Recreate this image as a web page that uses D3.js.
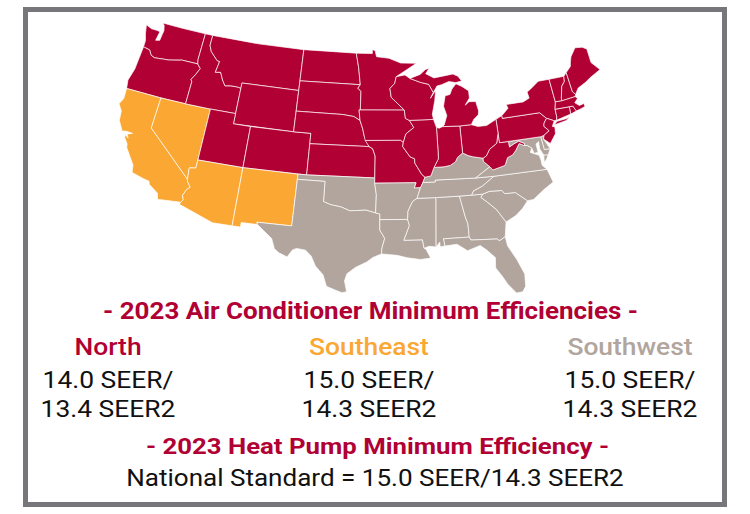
<!DOCTYPE html>
<html>
<head>
<meta charset="utf-8">
<script src="https://cdnjs.cloudflare.com/ajax/libs/d3/7.8.5/d3.min.js"></script>
<style>
  html, body { margin: 0; padding: 0; background: #fff; }
  svg { display: block; }
  text { font-family: Roboto, sans-serif; }
</style>
</head>
<body>
<script>
const regions = ['North', 'Southeast', 'Southwest']
const seerValues = ['14.0 SEER/', '15.0 SEER/', '15.0 SEER/']
const seer2Values = ['13.4 SEER2', '14.3 SEER2', '14.3 SEER2']
const acTitle = '- 2023 Air Conditioner Minimum Efficiencies -'
const hpTitle = '- 2023 Heat Pump Minimum Efficiency -'
const hpLine = 'National Standard = 15.0 SEER/14.3 SEER2'

const northStates = ['WA', 'OR', 'ID', 'MT', 'WY', 'UT', 'CO', 'ND', 'SD', 'NE', 'KS', 'MN', 'IA', 'MO', 'WI', 'IL', 'IN', 'OH', 'MI', 'MIU', 'WV', 'PA', 'NY', 'LI', 'VT', 'NH', 'ME', 'MA', 'RI', 'CT', 'NJ']
const orangeStates = ['CA', 'NV', 'AZ', 'NM']

const WA = [[-124.7,48.38],[-123.9,48.16],[-123.1,48.15],[-122.75,48.1],[-122.9,47.2],[-122.4,47.3],[-122.35,47.9],[-122.3,48.3],[-122.5,48.8],[-122.76,49],[-120,49],[-117.03,49],[-117.04,46.42],[-116.92,45.99],[-118.98,46],[-119.3,45.93],[-120.5,45.7],[-121.2,45.65],[-122.3,45.55],[-122.8,45.7],[-123.2,46.15],[-123.9,46.25],[-124.05,46.27],[-124.1,46.9],[-124.4,47.5]]
const OR = [[-124.05,46.27],[-123.9,46.25],[-123.2,46.15],[-122.8,45.7],[-122.3,45.55],[-121.2,45.65],[-120.5,45.7],[-119.3,45.93],[-118.98,46],[-116.92,45.99],[-116.46,45.6],[-116.85,44.9],[-117.2,44.4],[-117.03,44.2],[-117.03,42],[-120,42],[-124.2,42],[-124.4,42.8],[-124.1,44]]
const CA = [[-124.2,42],[-120,42],[-120,39],[-114.63,35],[-114.57,34.8],[-114.14,34.3],[-114.43,34.05],[-114.72,33.4],[-114.52,33],[-114.72,32.72],[-117.12,32.53],[-117.3,33.1],[-118.4,33.75],[-118.5,34.03],[-119.2,34.15],[-120.5,34.45],[-120.65,35.15],[-121.9,36.6],[-122,36.96],[-122.5,37.5],[-122.5,37.75],[-122.1,37.5],[-122.35,37.85],[-121.8,38.05],[-122.5,38.1],[-123,38],[-123.7,38.9],[-123.85,39.8],[-124.4,40.4],[-124.1,41]]
const NV = [[-120,42],[-117.03,42],[-114.04,42],[-114.04,37],[-114.05,36.2],[-114.74,36.1],[-114.63,35],[-120,39]]
const ID = [[-117.03,49],[-116.05,49],[-116.05,48],[-115.7,47.45],[-114.7,46.7],[-114.35,46.65],[-114.55,45.56],[-113.9,45.65],[-113.45,44.95],[-113,44.45],[-112.3,44.55],[-111.5,44.55],[-111.05,44.48],[-111.05,42],[-114.04,42],[-117.03,42],[-117.03,44.2],[-117.2,44.4],[-116.85,44.9],[-116.46,45.6],[-116.92,45.99],[-117.04,46.42]]
const MT = [[-116.05,49],[-110,49],[-104.05,49],[-104.05,45.94],[-104.05,45],[-111.05,45],[-111.05,44.48],[-111.5,44.55],[-112.3,44.55],[-113,44.45],[-113.45,44.95],[-113.9,45.65],[-114.55,45.56],[-114.35,46.65],[-114.7,46.7],[-115.7,47.45],[-116.05,48]]
const WY = [[-111.05,45],[-104.05,45],[-104.05,43],[-104.05,41],[-111.05,41],[-111.05,42],[-111.05,44.48]]
const UT = [[-114.04,42],[-111.05,42],[-111.05,41],[-109.05,41],[-109.05,37],[-114.04,37]]
const CO = [[-109.05,41],[-104.05,41],[-102.05,41],[-102.05,40],[-102.05,37],[-109.05,37]]
const AZ = [[-114.04,37],[-109.05,37],[-109.05,31.33],[-111.07,31.33],[-114.8,32.5],[-114.72,32.72],[-114.52,33],[-114.72,33.4],[-114.43,34.05],[-114.14,34.3],[-114.57,34.8],[-114.63,35],[-114.74,36.1],[-114.05,36.2]]
const NM = [[-109.05,37],[-103,37],[-103.04,32],[-106.62,32],[-106.53,31.78],[-108.2,31.78],[-108.2,31.33],[-109.05,31.33]]
const ND = [[-104.05,49],[-97.23,49],[-96.85,47.6],[-96.56,45.94],[-104.05,45.94]]
const SD = [[-104.05,45.94],[-96.56,45.94],[-96.85,45.6],[-96.45,45.3],[-96.45,43.5],[-96.6,43.5],[-96.44,42.49],[-97.2,42.85],[-98.5,43],[-104.05,43],[-104.05,45]]
const NE = [[-104.05,43],[-98.5,43],[-97.2,42.85],[-96.44,42.49],[-96.1,41.7],[-95.9,41],[-95.31,40],[-102.05,40],[-102.05,41],[-104.05,41]]
const KS = [[-102.05,40],[-95.31,40],[-94.9,39.8],[-94.61,39.1],[-94.62,37],[-102.05,37]]
const OK = [[-103,37],[-102.05,37],[-94.62,37],[-94.62,36.5],[-94.43,35.4],[-94.48,33.64],[-95.5,33.9],[-96.6,33.83],[-97.2,33.8],[-98.1,34.13],[-99.2,34.3],[-100,34.56],[-100,36.5],[-103,36.5]]
const TX = [[-106.62,32],[-103.04,32],[-103,36.5],[-100,36.5],[-100,34.56],[-99.2,34.3],[-98.1,34.13],[-97.2,33.8],[-96.6,33.83],[-95.5,33.9],[-94.48,33.64],[-94.04,33.55],[-94.04,33],[-94.04,32],[-93.53,31.2],[-93.8,30.3],[-93.85,29.7],[-94.7,29.35],[-95.3,28.9],[-96.4,28.35],[-97.2,27.7],[-97.4,27],[-97.15,25.96],[-97.6,25.85],[-98.3,26.1],[-99.1,26.4],[-99.5,27.5],[-100.3,28.3],[-100.8,29.25],[-101.4,29.77],[-102.3,29.88],[-102.7,29.7],[-103.15,28.98],[-104,29.3],[-104.5,29.65],[-104.9,30.6],[-106,31.4],[-106.53,31.78]]
const MN = [[-97.23,49],[-95.15,49],[-95.15,49.38],[-94.8,49.3],[-94.6,48.7],[-93,48.55],[-91.5,48.07],[-89.5,48],[-92.1,46.75],[-92.3,46.1],[-92.9,45.6],[-92.75,44.75],[-91.2,43.5],[-96.45,43.5],[-96.45,45.3],[-96.85,45.6],[-96.56,45.94],[-96.85,47.6]]
const IA = [[-96.45,43.5],[-91.2,43.5],[-91.1,42.7],[-90.64,42.5],[-90.15,41.8],[-91.1,41.2],[-91.42,40.38],[-91.73,40.6],[-95.77,40.58],[-95.9,41],[-96.1,41.7],[-96.44,42.49],[-96.6,43.5]]
const MO = [[-95.77,40.58],[-91.73,40.6],[-91.42,40.38],[-91.5,40],[-90.7,39],[-90.2,38.8],[-90.2,38.4],[-89.5,37.3],[-89.15,37],[-89.4,36.5],[-89.7,36],[-90.37,36],[-90.15,36.5],[-94.62,36.5],[-94.62,37],[-94.61,39.1],[-94.9,39.8],[-95.31,40]]
const AR = [[-94.62,36.5],[-90.15,36.5],[-90.37,36],[-89.7,36],[-90.1,35],[-90.6,34.7],[-91.1,33.8],[-91.17,33],[-94.04,33],[-94.04,33.55],[-94.48,33.64],[-94.43,35.4]]
const LA = [[-94.04,33],[-91.17,33],[-91,32.4],[-91.6,31],[-89.73,31],[-89.6,30.18],[-89.4,30.05],[-89,29.2],[-90,29.1],[-91.3,29.3],[-92.3,29.55],[-93.85,29.7],[-93.8,30.3],[-93.53,31.2],[-94.04,32]]
const MS = [[-90.1,35],[-88.2,35],[-88.1,34.9],[-88.4,30.25],[-89.1,30.35],[-89.6,30.18],[-89.73,31],[-91.6,31],[-91,32.4],[-91.17,33],[-91.1,33.8],[-90.6,34.7]]
const AL = [[-88.2,35],[-85.6,35],[-85.18,32.87],[-85,32.3],[-85,31],[-87.6,31],[-87.5,30.3],[-88,30.25],[-88,30.7],[-88.4,30.25],[-88.1,34.9]]
const GA = [[-85.6,35],[-84.32,35],[-83.11,35],[-83.35,34.7],[-82.75,34.2],[-81.9,33.4],[-81.4,32.6],[-81.1,32.1],[-81.4,30.7],[-82.05,30.36],[-82.2,30.57],[-84.86,30.7],[-85,31],[-85,32.3],[-85.18,32.87]]
const FL = [[-87.6,31],[-85,31],[-84.86,30.7],[-82.2,30.57],[-82.05,30.36],[-81.4,30.7],[-81.3,29.8],[-80.6,28.4],[-80.05,26.9],[-80.15,25.7],[-80.5,25.2],[-81.1,25.15],[-81.8,26.1],[-82.2,26.9],[-82.75,27.8],[-82.65,28.8],[-83.4,29.6],[-84,30.1],[-85.3,29.7],[-86.3,30.4],[-87.5,30.3]]
const SC = [[-83.35,34.7],[-83.11,35],[-82.4,35.2],[-81.05,35.15],[-80.8,34.82],[-79.67,34.8],[-78.55,33.86],[-79.2,33.2],[-80,32.6],[-81.1,32.1],[-81.4,32.6],[-81.9,33.4],[-82.75,34.2]]
const NC = [[-84.32,35],[-83.11,35],[-82.4,35.2],[-81.05,35.15],[-80.8,34.82],[-79.67,34.8],[-78.55,33.86],[-77.9,33.9],[-76.6,34.7],[-75.5,35.25],[-75.87,36.55],[-81.68,36.59],[-82.6,36.05],[-83.1,35.75],[-84.05,35.4]]
const TN = [[-89.4,36.5],[-88.07,36.5],[-88.07,36.68],[-83.68,36.6],[-81.68,36.59],[-82.6,36.05],[-83.1,35.75],[-84.05,35.4],[-84.32,35],[-85.6,35],[-88.2,35],[-90.1,35],[-89.7,36]]
const KY = [[-89.15,37],[-88.5,37.1],[-88.1,37.9],[-87,37.9],[-86.3,38],[-85.7,38.3],[-85.4,38.73],[-84.8,39.1],[-84.2,38.8],[-83.7,38.65],[-82.6,38.42],[-82.6,38.1],[-81.97,37.54],[-83.68,36.6],[-88.07,36.68],[-88.07,36.5],[-89.4,36.5]]
const VA = [[-83.68,36.6],[-81.97,37.54],[-81.7,37.2],[-80.3,37.5],[-79.9,38.2],[-79.3,38.4],[-78.87,38.77],[-78.35,39.4],[-77.83,39.13],[-77.5,39.1],[-77.05,38.8],[-77.3,38.4],[-76.4,38],[-76.3,37.5],[-76.3,37],[-75.87,36.55],[-81.68,36.59]]
const VAE = [[-75.4,37.9],[-75.9,37.95],[-76,37.2],[-75.7,37.5]]
const WV = [[-82.6,38.42],[-82.2,38.6],[-81.75,39.2],[-80.85,39.7],[-80.52,40.64],[-80.52,39.72],[-79.48,39.72],[-79.48,39.2],[-78.9,39.45],[-78.35,39.63],[-77.72,39.32],[-77.83,39.13],[-78.35,39.4],[-78.87,38.77],[-79.3,38.4],[-79.9,38.2],[-80.3,37.5],[-81.7,37.2],[-81.97,37.54],[-82.6,38.1]]
const MD = [[-79.48,39.72],[-75.79,39.72],[-75.7,38.46],[-75.05,38.45],[-75.4,37.9],[-75.9,37.95],[-76.2,38.6],[-76.15,39.3],[-76.5,39.1],[-76.45,38.3],[-76.9,38.25],[-77.05,38.8],[-77.5,39.1],[-77.83,39.13],[-77.72,39.32],[-78.35,39.63],[-78.9,39.45],[-79.48,39.2]]
const DE = [[-75.79,39.72],[-75.4,39.8],[-75.55,39.45],[-75.05,38.45],[-75.7,38.46]]
const PA = [[-80.52,41.98],[-79.76,42.27],[-79.76,42],[-75.35,42],[-74.7,41.36],[-75.1,40.95],[-75.2,40.65],[-74.72,40.15],[-75.4,39.8],[-75.79,39.72],[-80.52,39.72],[-80.52,40.64]]
const OH = [[-84.8,41.7],[-83.45,41.73],[-82.7,41.5],[-81.7,41.5],[-80.52,41.98],[-80.52,40.64],[-80.85,39.7],[-81.75,39.2],[-82.2,38.6],[-82.6,38.42],[-83.7,38.65],[-84.2,38.8],[-84.8,39.1]]
const IN = [[-87.52,41.7],[-87.2,41.63],[-86.8,41.76],[-84.8,41.7],[-84.8,39.1],[-85.4,38.73],[-85.7,38.3],[-86.3,38],[-87,37.9],[-88.1,37.9],[-87.55,38.7],[-87.53,39.35]]
const IL = [[-90.64,42.5],[-87.8,42.5],[-87.52,41.7],[-87.53,39.35],[-87.55,38.7],[-88.1,37.9],[-88.5,37.1],[-89.15,37],[-89.5,37.3],[-90.2,38.4],[-90.2,38.8],[-90.7,39],[-91.5,40],[-91.42,40.38],[-91.1,41.2],[-90.15,41.8]]
const WI = [[-92.1,46.75],[-91,46.9],[-90.4,46.55],[-89.1,46.13],[-88.1,45.9],[-87.6,45.1],[-88,44.55],[-87.3,45.3],[-87.5,44.3],[-87.9,43],[-87.8,42.5],[-90.64,42.5],[-91.1,42.7],[-91.2,43.5],[-92.75,44.75],[-92.9,45.6],[-92.3,46.1]]
const MI = [[-86.8,41.76],[-84.8,41.7],[-83.45,41.73],[-83.1,42.2],[-82.5,42.6],[-82.4,43],[-82.6,43.9],[-83.4,43.95],[-83.9,43.65],[-83.3,44.3],[-83.3,45],[-84.1,45.5],[-84.75,45.78],[-85.3,45.3],[-85.6,44.8],[-86.2,44.7],[-86.5,43.7],[-86.2,42.8],[-86.6,41.9]]
const MIU = [[-90.4,46.55],[-89.1,46.9],[-88.4,47.35],[-87.9,47.47],[-88.4,46.95],[-87.4,46.5],[-86,46.65],[-85,46.75],[-84.4,46.5],[-84,46],[-84.75,45.9],[-85.6,46.05],[-86.5,45.8],[-87.1,45.7],[-87.6,45.1],[-88.1,45.9],[-89.1,46.13]]
const NY = [[-79.76,42.27],[-79.76,42],[-75.35,42],[-74.7,41.36],[-73.9,41],[-73.65,41],[-73.5,41.3],[-73.49,42.05],[-73.25,42.75],[-73.35,45],[-74.7,45],[-75.8,44.4],[-76.3,44.15],[-76.2,43.55],[-77,43.28],[-79.05,43.27],[-78.9,42.9]]
const LI = [[-74,40.6],[-73.6,40.9],[-72.6,40.97],[-72,41.05],[-72.6,40.8]]
const VT = [[-73.35,45],[-71.5,45],[-71.6,44.5],[-72.05,44.1],[-72.45,43],[-72.46,42.73],[-73.25,42.75]]
const NH = [[-71.5,45],[-71.1,45.3],[-70.98,43.4],[-70.7,43.06],[-70.82,42.87],[-72.46,42.73],[-72.45,43],[-72.05,44.1],[-71.6,44.5]]
const ME = [[-71.1,45.3],[-70.4,45.8],[-70.25,46.2],[-70,46.7],[-69.2,47.45],[-68.3,47.35],[-67.8,47.07],[-67.8,45.7],[-67,44.85],[-68.5,44.3],[-69.1,44],[-70.2,43.6],[-70.7,43.06],[-70.98,43.4]]
const MA = [[-73.25,42.75],[-72.46,42.73],[-70.82,42.87],[-70.6,42.65],[-71.05,42.3],[-70.6,41.95],[-70.05,42.05],[-70,41.75],[-70.6,41.6],[-71.12,41.5],[-71.38,42.02],[-71.8,42.02],[-73.49,42.05]]
const RI = [[-71.8,42.02],[-71.38,42.02],[-71.12,41.5],[-71.85,41.32]]
const CT = [[-73.49,42.05],[-71.8,42.02],[-71.85,41.32],[-73.65,41],[-73.5,41.3]]
const NJ = [[-74.7,41.36],[-73.9,41],[-74.25,40.5],[-73.98,40.4],[-74.1,39.75],[-74.9,38.93],[-75.55,39.45],[-75.4,39.8],[-74.72,40.15],[-75.2,40.65],[-75.1,40.95]]

const stateRings = { WA, OR, CA, NV, ID, MT, WY, UT, CO, AZ, NM, ND, SD, NE, KS, OK, TX, MN, IA, MO, AR, LA, MS, AL, GA, FL, SC, NC, TN, KY, VA, VAE, WV, MD, DE, PA, OH, IN, IL, WI, MI, MIU, NY, LI, VT, NH, ME, MA, RI, CT, NJ }

const width = 750
const height = 514
const red = '#b10034'
const orange = '#fba733'
const taupe = '#b1a59d'
const ink = '#111111'

function toFeature (name) {
  const ring = stateRings[name].concat([stateRings[name][0]])
  const feature = { type: 'Feature', id: name, geometry: { type: 'Polygon', coordinates: [ring] } }
  // d3 wants exterior rings clockwise, flip the ones typed the other way
  if (d3.geoArea(feature) > 2 * Math.PI) ring.reverse()
  return feature
}

function stateColor (name) {
  if (northStates.includes(name)) return red
  if (orangeStates.includes(name)) return orange
  return taupe
}

// the original picture is wider than a true albers map, so text and map get stretched
function label (parent, cx, y, size, weight, fill, str, stretch) {
  return parent.append('text')
    .attr('transform', 'translate(' + cx + ',' + y + ') scale(' + stretch + ',1)')
    .attr('text-anchor', 'middle')
    .attr('font-size', size)
    .attr('font-weight', weight)
    .attr('fill', fill)
    .text(str)
}

function main () {
  const svg = d3.select('body').append('svg')
    .attr('width', width)
    .attr('height', height)

  svg.append('rect')
    .attr('x', 25.5)
    .attr('y', 9.5)
    .attr('width', 699)
    .attr('height', 495)
    .attr('fill', '#fff')
    .attr('stroke', '#77777b')
    .attr('stroke-width', 5)

  const features = Object.keys(stateRings).map(toFeature)
  const collection = { type: 'FeatureCollection', features }

  const albers = d3.geoAlbers()
    .parallels([29.5, 45.5])
    .rotate([93.5, 0])
    .center([0, 38])
    .scale(1000)
    .translate([0, 0])

  const bounds = d3.geoPath(albers).bounds(collection)
  const xFit = d3.scaleLinear().domain([bounds[0][0], bounds[1][0]]).range([119, 600])
  const yFit = d3.scaleLinear().domain([bounds[0][1], bounds[1][1]]).range([23, 293])
  const fit = d3.geoTransform({
    point (x, y) { this.stream.point(xFit(x), yFit(y)) }
  })
  const path = d3.geoPath({ stream: s => albers.stream(fit.stream(s)) })

  svg.append('g')
    .selectAll('path')
    .data(features)
    .join('path')
    .attr('d', path)
    .attr('fill', d => stateColor(d.id))
    .attr('stroke', '#fff')
    .attr('stroke-opacity', 0.85)
    .attr('stroke-width', 0.8)
    .attr('stroke-linejoin', 'round')

  const x = d3.scalePoint().domain(regions).range([108, 630])
  const headColors = [red, orange, taupe]

  label(svg, 370.5, 319, 23, 700, red, acTitle, 1.13)

  regions.forEach((r, i) => {
    label(svg, x(r), 355, 24, 500, headColors[i], r, 1.1)
    label(svg, x(r), 388, 24, 400, ink, seerValues[i], 1.1)
    label(svg, x(r), 417, 24, 400, ink, seer2Values[i], 1.1)
  })

  label(svg, 377.5, 454, 23, 700, red, hpTitle, 1.12)
  label(svg, 375, 486, 24, 400, ink, hpLine, 1.085)
}

main()
</script>
</body>
</html>
